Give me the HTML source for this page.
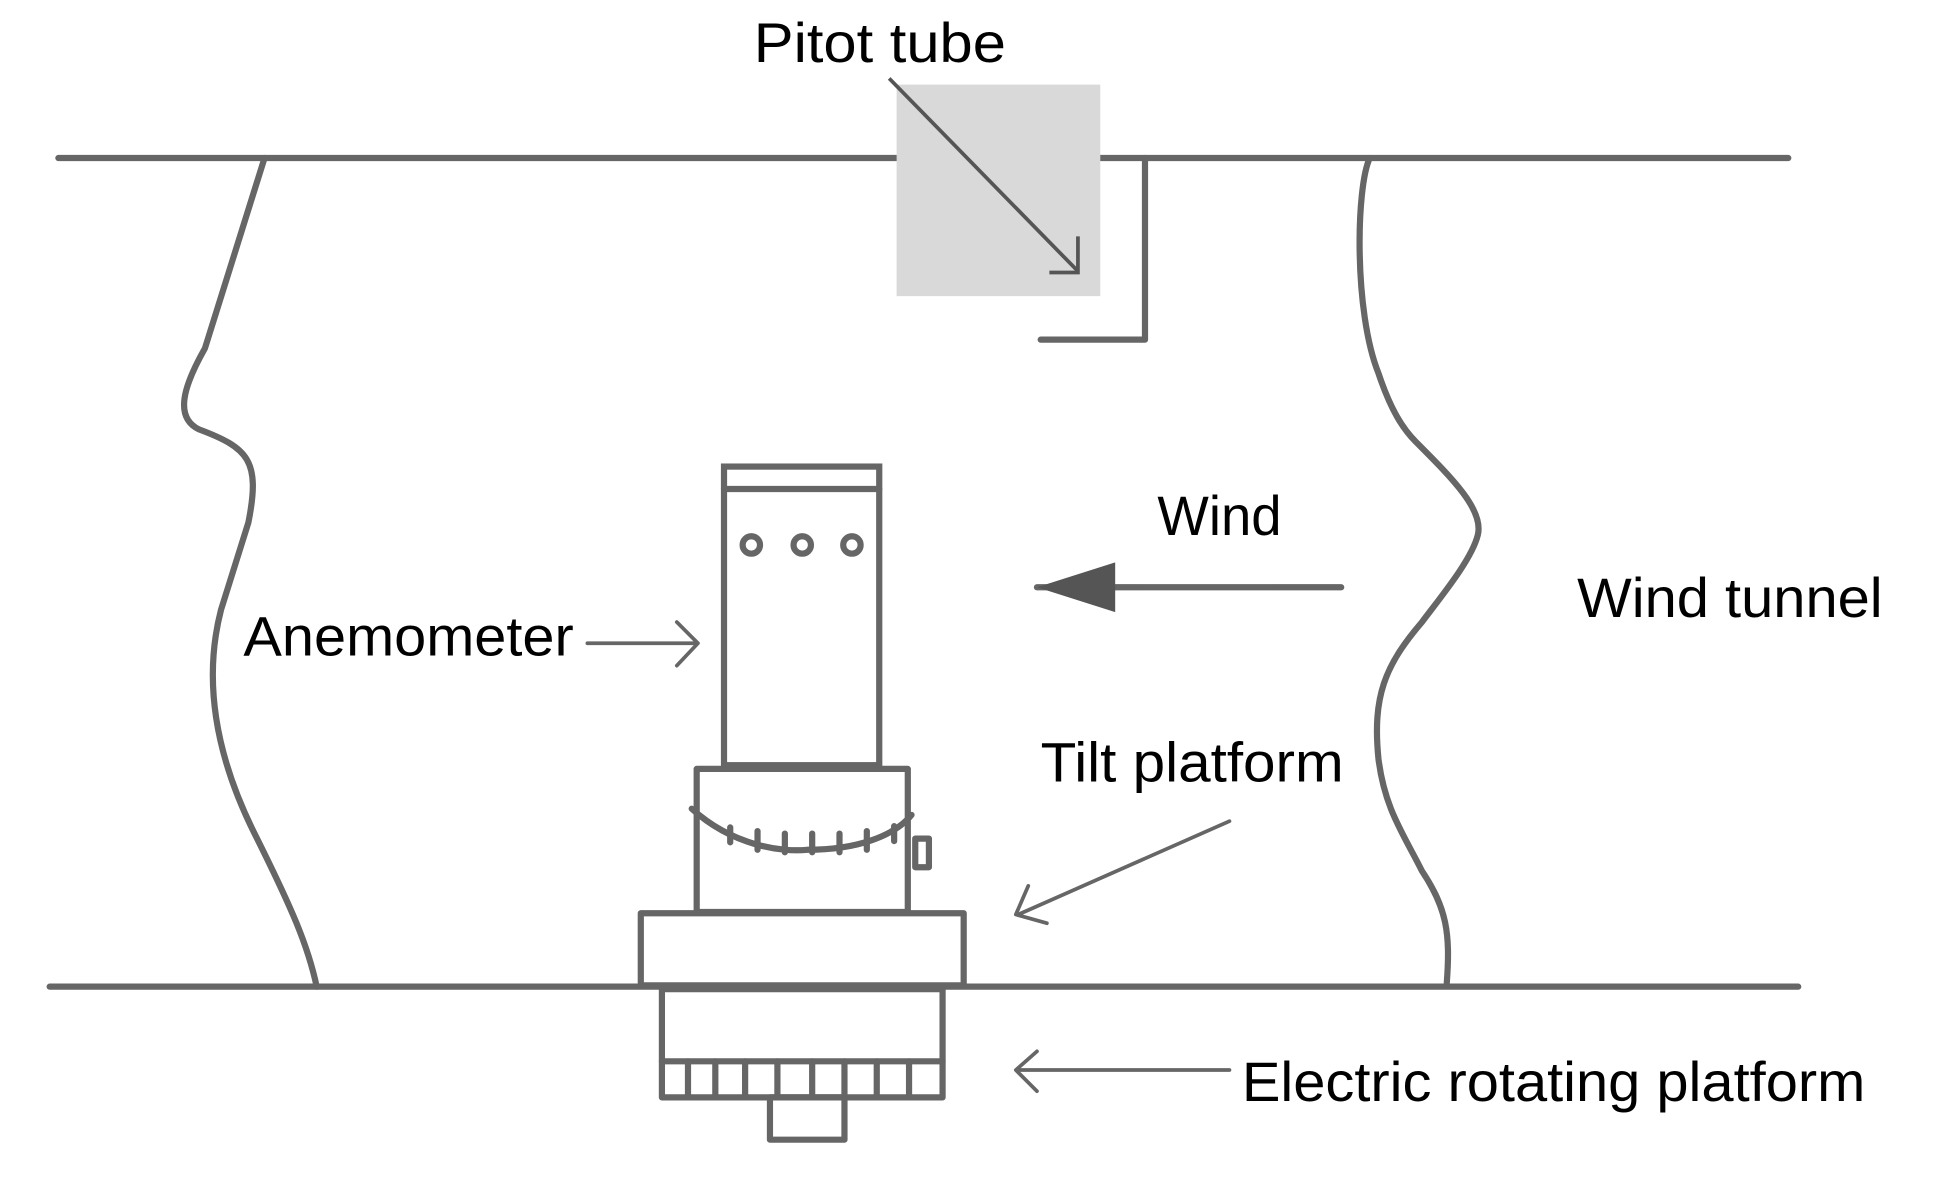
<!DOCTYPE html>
<html><head><meta charset="utf-8"><style>
html,body{margin:0;padding:0;background:#fff;}
svg{display:block;}
text{font-family:"Liberation Sans",sans-serif;font-size:45px;fill:#000;}
</style></head><body>
<svg width="1946" height="1182" viewBox="0 0 1567 950" preserveAspectRatio="none" xmlns="http://www.w3.org/2000/svg">
<g fill="none" stroke="#666" stroke-width="5" stroke-linecap="round" stroke-linejoin="round">
<line x1="47" y1="127" x2="1440" y2="127"/>
<line x1="40" y1="793" x2="1448" y2="793"/>
<path d="M213 127 L165 280 C148 310 140 335 160 345 C200 360 210 370 200 420 L178 490 C165 540 170 600 205 670 C235 730 248 760 255 793"/>
<path d="M1103 127 C1092 150 1090 250 1110 300 C1120 330 1130 345 1140 355 C1170 385 1195 410 1190 430 C1185 450 1160 480 1145 500 C1115 535 1105 560 1110 610 C1115 650 1130 670 1145 700 C1165 730 1168 750 1165 790"/>
<path d="M922 127 L922 273 L838 273"/>
<rect x="583" y="375" width="125" height="240" stroke-linejoin="miter"/>
<line x1="583" y1="393" x2="708" y2="393"/>
<circle cx="605" cy="438" r="7"/><circle cx="646" cy="438" r="7"/><circle cx="686" cy="438" r="7"/>
<rect x="561" y="618" width="170" height="115"/>
<path d="M557 650 C590 680 630 685 650 683 C690 683 720 672 734 655"/>
<path d="M588 665 v12 M610 668 v15 M632 670 v15 M654 670 v15 M676 670 v15 M698 668 v15 M720 664 v12"/>
<rect x="737" y="674" width="11" height="23"/>
<rect x="516" y="734" width="260" height="58"/>
<rect x="533" y="795" width="226" height="87"/>
<line x1="533" y1="853" x2="759" y2="853"/>
<path d="M554 853v29 M576 853v29 M600 853v29 M626 853v29 M654 853v29 M680 853v29 M706 853v29 M732 853v29"/>
<rect x="620" y="882" width="60" height="34"/>
<line x1="835" y1="472" x2="1080" y2="472"/>
<line x1="473" y1="517" x2="560" y2="517" stroke-width="3"/>
<path d="M545 500 L562 517 L545 535" stroke-width="3"/>
<line x1="990" y1="660" x2="820" y2="735" stroke-width="3"/>
<path d="M828 712 L818 735 L843 742" stroke-width="3"/>
<line x1="990" y1="860" x2="820" y2="860" stroke-width="3"/>
<path d="M835 845 L818 860 L835 877" stroke-width="3"/>
</g>
<rect x="722" y="68" width="164" height="170" fill="#d9d9d9"/>
<g stroke="#555" stroke-width="3" fill="none">
<line x1="716" y1="63" x2="868" y2="218"/>
<path d="M868 190 L868 219 L845 219"/>
</g>
<polygon points="835,472 898,452 898,492" fill="#555"/>
<text x="607" y="50" textLength="203" lengthAdjust="spacingAndGlyphs">Pitot tube</text>
<text x="932" y="430" textLength="100" lengthAdjust="spacingAndGlyphs">Wind</text>
<text x="1270" y="496" textLength="246" lengthAdjust="spacingAndGlyphs">Wind tunnel</text>
<text x="196" y="527" textLength="266" lengthAdjust="spacingAndGlyphs">Anemometer</text>
<text x="838" y="628" textLength="244" lengthAdjust="spacingAndGlyphs">Tilt platform</text>
<text x="1000" y="885" textLength="502" lengthAdjust="spacingAndGlyphs">Electric rotating platform</text>
</svg>
</body></html>
